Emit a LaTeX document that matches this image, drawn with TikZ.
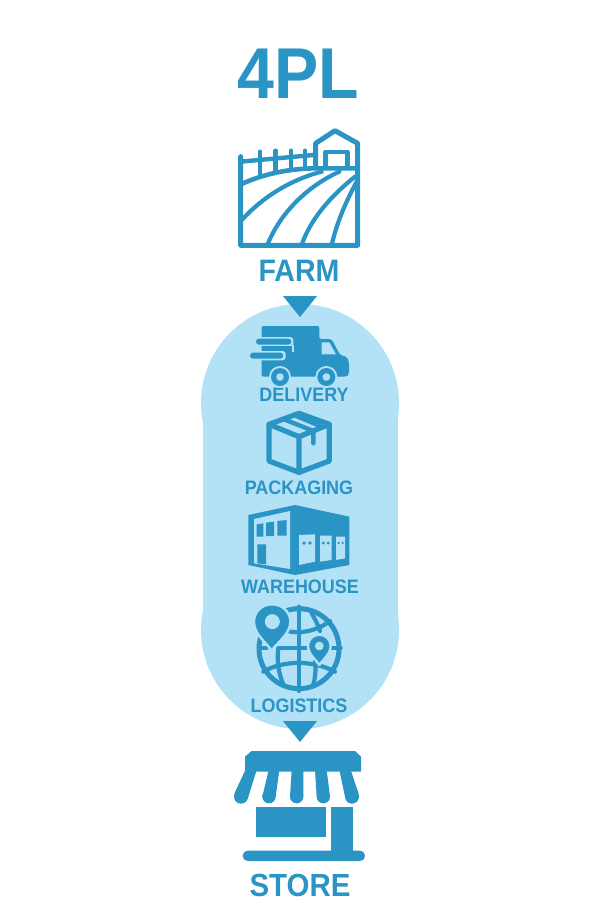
\documentclass[tikz,border=0pt]{standalone}
\usepackage{fontspec}
\setmainfont[FakeStretch=0.92]{Liberation Sans}
\definecolor{dk}{HTML}{2A94C4}
\definecolor{lt}{HTML}{B3E1F6}
\tikzset{
 z/.style 2 args={x=.33333pt,y=-.33333pt,shift={(#1pt,-#2pt)}},
 ol/.style={draw=dk,line width=#1*1pt,line join=round,line cap=round},
 ol/.default=5,
 lab/.style={text=dk,font=\bfseries\fontsize{#1}{#1}\selectfont,inner sep=0pt,anchor=center},
 pin/.style={fill=dk,draw=lt,line width=2.4pt,line join=round},
}
\begin{document}
\begin{tikzpicture}[x=1pt,y=-1pt]
\useasboundingbox (0,0) rectangle (600,900);
\fill[white] (0,0) rectangle (600,900);
% blob
\fill[lt] (300,403) circle[radius=99];
\fill[lt] (300,630) circle[radius=99];
\fill[lt] (202.5,403) rectangle (397.5,630);
% triangles
\fill[dk] (283,296) -- (317,296) -- (300,317) -- cycle;
\fill[dk] (283,721) -- (317,721) -- (300,742) -- cycle;
% labels
\node[lab=72] (t) at (298,74) {4PL};
\node[lab=31] (farm) at (299,271) {FARM};
\node[lab=19.5] (delivery) at (304,395) {DELIVERY};
\node[lab=19.5] (packaging) at (299,488) {PACKAGING};
\node[lab=19.5] (warehouse) at (300,587) {WAREHOUSE};
\node[lab=19.5] (logistics) at (299,706) {LOGISTICS};
\node[lab=32] (store) at (300,885) {STORE};
% farm
\begin{scope}[z={220}{120}]
\draw[ol] (62,110) -- (62,376) -- (413,376) -- (413,70) -- (345,32) -- (287,70) -- (287,135);
\draw[ol=4.6] (317,140) -- (317,96) -- (382,96) -- (382,140);
\draw[ol=4.4] (62,125) -- (280,105);
\draw[ol=4.6] (65,192) .. controls (130,162) and (210,145) .. (290,145) -- (410,145);
\draw[ol=4.4] (120,95) -- (120,165) (167,92) -- (167,155) (213,92) -- (213,148) (255,92) -- (255,145);
\draw[ol=4.2] (65,300) .. controls (130,230) and (210,180) .. (305,155);
\draw[ol=4.2] (142,375) .. controls (180,280) and (260,200) .. (358,155);
\draw[ol=4.2] (245,375) .. controls (270,300) and (330,230) .. (405,170);
\draw[ol=4.2] (335,375) .. controls (350,310) and (375,250) .. (410,185);
\end{scope}
% truck
\begin{scope}[z={230}{315}]
\fill[dk,rounded corners=2pt] (95,33) -- (268,33) -- (268,72) -- (305,72) -- (330,120) -- (350,125) -- (357,140) -- (357,178) -- (350,185) -- (95,185) -- cycle;
\fill[lt] (275,82) -- (298,82) -- (318,118) -- (275,118) -- cycle;
\fill[lt,rounded corners=3pt] (74,66) rectangle (190,94);
\fill[lt,rounded corners=3pt] (54,108) rectangle (167,136);
\fill[lt] (185,90) rectangle (193,110);
\fill[dk,rounded corners=3pt] (78,71) rectangle (184,89);
\fill[dk] (95,94) rectangle (186,108);
\fill[dk,rounded corners=3pt] (60,113) rectangle (160,131);
\foreach \c in {150,289}{
 \fill[lt] (\c,186) circle[radius=11pt];
 \fill[dk] (\c,186) circle[radius=9pt];
 \fill[lt] (\c,186) circle[radius=3.8pt];
}
\end{scope}
% box
\begin{scope}[z={230}{315}]
\draw[ol=5.2] (207,295) -- (298,328) -- (298,438) -- (207,472) -- (117,438) -- (117,328) -- cycle;
\draw[ol=5.2] (117,328) -- (207,365) -- (298,328) (207,365) -- (207,472);
\draw[ol=4.4] (160,312) -- (250,348) -- (250,385);
\draw[ol=4.4] (192,300) -- (268,332);
\end{scope}
% warehouse
\begin{scope}[z={230}{495}]
\fill[dk] (55,60) -- (195,30) -- (358,65) -- (358,210) -- (195,240) -- (55,210) -- cycle;
\fill[lt] (72,72) -- (180,48) -- (180,222) -- (72,205) -- cycle;
\fill[dk] (80,88) -- (100,85) -- (100,125) -- (80,125) -- cycle;
\fill[dk] (108,83) -- (132,80) -- (132,123) -- (108,123) -- cycle;
\fill[dk] (142,78) -- (170,75) -- (170,122) -- (142,122) -- cycle;
\fill[dk] (82,148) -- (108,148) -- (108,208) -- (82,205) -- cycle;
\fill[lt] (207,120) -- (255,118) -- (255,200) -- (207,210) -- cycle;
\fill[lt] (270,122) -- (305,122) -- (305,195) -- (270,200) -- cycle;
\fill[lt] (318,125) -- (345,125) -- (345,190) -- (318,195) -- cycle;
\foreach \a/\r in {222/6,240/6,280/5,295/5,326/4,338/4}
 \fill[dk] (\a,144) circle[radius=\r*.33pt];
\end{scope}
% globe
\begin{scope}[z={230}{495}]
\draw[ol=5] (207,461) circle[radius=40pt];
\draw[ol=4.2] (207,335) -- (207,588);
\draw[ol=4.2] (180,410) .. controls (220,416) and (265,405) .. (300,378);
\draw[ol=4.2] (245,355) .. controls (257,375) and (265,392) .. (270,408);
\draw[ol=4.2] (100,530) .. controls (160,495) and (250,495) .. (315,530);
\draw[ol=4.2] (93,460) -- (110,460) (145,460) -- (238,460) (305,460) -- (332,460);
\draw[ol=4.2] (145,460) .. controls (140,495) and (145,535) .. (160,568);
\draw[ol=4.2] (255,500) .. controls (258,525) and (256,548) .. (250,568);
% pins
\draw[pin] (72,380) .. controls (72,350) and (96,328) .. (126,328) .. controls (156,328) and (181,350) .. (181,380) .. controls (181,415) and (147,438) .. (125,466) .. controls (103,438) and (72,415) .. (72,380) -- cycle;
\fill[lt] (127,380) circle[radius=7.5pt];
\draw[pin] (234,452) .. controls (234,433) and (250,419) .. (268,419) .. controls (286,419) and (302,433) .. (302,452) .. controls (302,477) and (280,492) .. (268,510) .. controls (256,492) and (234,477) .. (234,452) -- cycle;
\fill[lt] (268,453) circle[radius=4.4pt];
\end{scope}
% store
\begin{scope}[z={220}{715}]
\fill[dk] (95,108) -- (405,108) -- (423,125) -- (423,170) -- (75,170) -- (75,125) -- cycle;
\fill[dk] (76,165) -- (43,236) -- (83,252) -- (110,165) -- cycle;
\fill[dk] (63,245) circle[radius=7pt];
\fill[dk] (146,165) -- (127,245) -- (167,245) -- (178,165) -- cycle;
\fill[dk] (147,245) circle[radius=6.7pt];
\fill[dk] (215,165) -- (210,245) -- (250,245) -- (250,165) -- cycle;
\fill[dk] (230,245) circle[radius=6.7pt];
\fill[dk] (285,165) -- (290,245) -- (330,245) -- (320,165) -- cycle;
\fill[dk] (310,245) circle[radius=6.7pt];
\fill[dk] (358,165) -- (375,245) -- (416,236) -- (392,165) -- cycle;
\fill[dk] (396,245) circle[radius=7pt];
\fill[dk] (108,275) rectangle (318,365);
\fill[dk] (332,275) rectangle (398,410);
\fill[dk,rounded corners=5pt] (68,407) rectangle (435,438);
\end{scope}
\end{tikzpicture}
\end{document}
